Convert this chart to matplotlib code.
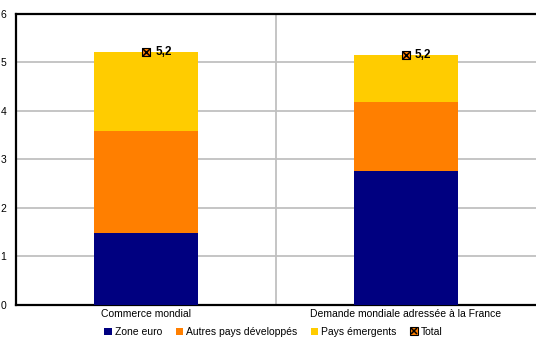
import numpy as np
import matplotlib.pyplot as plt
from matplotlib.lines import Line2D
from matplotlib.legend_handler import HandlerTuple

plt.rcParams['font.family'] = ['Liberation Sans', 'DejaVu Sans']

categories = ["Commerce mondial", "Demande mondiale adressée à la France"]
zone_euro = [1.48, 2.76]
autres = [2.11, 1.43]
emergents = [1.63, 0.97]
total = [5.22, 5.16]
total_labels = ["5,2", "5,2"]

fig = plt.figure(figsize=(5.36, 3.38), dpi=100)
ax = fig.add_axes([0.030, 0.098, 0.970, 0.861])

x = np.arange(len(categories))
w = 0.4
ax.bar(x, zone_euro, w, color="#000080", label="Zone euro", zorder=3)
ax.bar(x, autres, w, bottom=zone_euro, color="#FF7F00", label="Autres pays développés", zorder=3)
bot = np.array(zone_euro) + np.array(autres)
ax.bar(x, emergents, w, bottom=bot, color="#FFCC00", label="Pays émergents", zorder=3)

ax.scatter(x, total, marker="s", s=32, facecolor="#FF7F00", edgecolor="black", linewidth=0.8, zorder=5)
ax.scatter(x, total, marker="x", s=24, color="black", linewidth=1.1, zorder=6)
for xi, ti, lab in zip(x, total, total_labels):
    ax.text(xi + 0.035, ti, lab, fontsize=8.5, fontweight="bold", va="center", ha="left", zorder=7)

ax.set_xlim(-0.5, 1.5)
ax.set_ylim(0, 6)
ax.set_yticks(range(0, 7))
ax.set_xticks(x)
ax.set_xticklabels(categories, fontsize=7.5)
ax.tick_params(axis="both", length=0, labelsize=7.5)
ax.tick_params(axis="y", pad=7)
ax.tick_params(axis="x", pad=3)
ax.yaxis.grid(True, color="#C0C0C0", linewidth=1.3, zorder=0)
ax.axvline(0.5, color="#C0C0C0", linewidth=1.3, zorder=0)

for s in ["left", "bottom", "top"]:
    ax.spines[s].set_linewidth(1.6)
    ax.spines[s].set_color("black")
ax.spines["right"].set_visible(False)

handles, labels = ax.get_legend_handles_labels()
sq = Line2D([], [], marker="s", markersize=6, markerfacecolor="#FF7F00",
            markeredgecolor="black", markeredgewidth=0.8, linestyle="none")
cr = Line2D([], [], marker="x", markersize=5, color="black",
            markeredgewidth=1.1, linestyle="none")
handles.append((sq, cr))
labels.append("Total")
fig.legend(handles, labels, loc="lower center", bbox_to_anchor=(0.51, -0.025), ncol=4,
           frameon=False, fontsize=7.5, handlelength=0.7, handleheight=0.7,
           handletextpad=0.3, columnspacing=1.3,
           handler_map={tuple: HandlerTuple(ndivide=1, pad=0)})

fig.savefig("out.png", dpi=100)
